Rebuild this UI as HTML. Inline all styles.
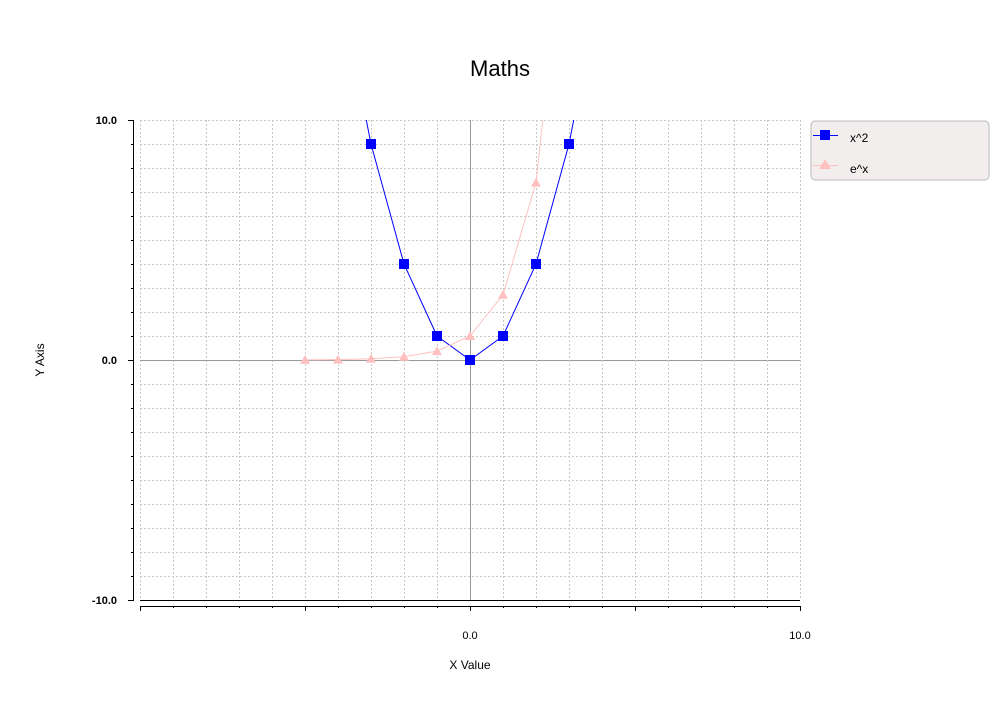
<!DOCTYPE html>
<html><head><meta charset="utf-8"><style>
body{margin:0;background:#fff;}
svg text{font-family:"Liberation Sans",sans-serif;}
</style></head><body>
<svg id="chart" width="1000" height="700" xmlns="http://www.w3.org/2000/svg">
<text x="500" y="76" text-anchor="middle" font-size="22">Maths</text>
<g id="grid" shape-rendering="crispEdges"></g>
<defs><clipPath id="pc"><rect x="140" y="120" width="660" height="480"/></clipPath></defs>
<g id="series" clip-path="url(#pc)"></g>
<g id="marks"></g>
<g shape-rendering="crispEdges">
<line x1="133.5" y1="120" x2="133.5" y2="600" stroke="#000"/>
<line x1="140" y1="600.5" x2="800" y2="600.5" stroke="#000"/>
<line x1="140" y1="606.5" x2="800" y2="606.5" stroke="#000"/>
</g>
<g id="axes" shape-rendering="crispEdges"></g>
<text transform="translate(44,360) rotate(-90)" text-anchor="middle" font-size="12">Y Axis</text>
<text x="470" y="669" text-anchor="middle" font-size="12">X Value</text>
<g>
<rect x="811" y="121" width="178" height="59" rx="4" fill="#f2eeee" stroke="#bbb"/>
<line x1="813" y1="135.5" x2="838" y2="135.5" stroke="#0000ff"/>
<rect x="820" y="130" width="10" height="10" fill="#0000ff"/>
<text x="850" y="142" font-size="12">x^2</text>
<line x1="813" y1="165.5" x2="838" y2="165.5" stroke="#ffc0c0"/>
<polygon points="825,159 831,169 819,169" fill="#ffc0c0"/>
<text x="850" y="173" font-size="12">e^x</text>
</g>
</svg>
<script>
const xs1=[-4,-3,-2,-1,0,1,2,3,4];
const ys1=[16,9,4,1,0,1,4,9,16];
const xs2=[-5,-4,-3,-2,-1,0,1,2,3];
const ys2=[0.0067,0.018,0.05,0.135,0.368,1,2.718,7.389,20.09];
const xTickLabels=[0,10];
const yTickLabels=[-10,0,10];
const NS="http://www.w3.org/2000/svg";
const X=v=>470+v*33, Y=v=>360-v*24;
function mk(t,a,p){const e=document.createElementNS(NS,t);for(const k in a)e.setAttribute(k,a[k]);p.appendChild(e);return e;}
const grid=document.getElementById('grid'),axes=document.getElementById('axes');
for(let i=-10;i<=10;i++){
 const g=mk('line',{x1:X(i)+0.5,x2:X(i)+0.5,y1:120,y2:600,stroke:i==0?'#999':'#c8c8c8','stroke-dasharray':i==0?'':'2,2'},grid);
 
 
 const h=mk('line',{x1:140,x2:800,y1:Y(i)+0.5,y2:Y(i)+0.5,stroke:i==0?'#999':'#c8c8c8','stroke-dasharray':i==0?'':'2,2'},grid);
 
 
 const t=mk('line',{x1:X(i)+0.5,x2:X(i)+0.5,y1:606,y2:i%5==0?611:608,stroke:'#000'},axes);
 
 
 const yt=mk('line',{x1:i%10==0?128:131,x2:134,y1:Y(i)+0.5,y2:Y(i)+0.5,stroke:'#000'},axes);
 
 
}
xTickLabels.forEach(v=>{const t=mk('text',{x:X(v),y:639,'text-anchor':'middle','font-size':11},axes);t.textContent=v.toFixed(1);
 
 });
yTickLabels.forEach(v=>{const t=mk('text',{x:117,y:Y(v)+4,'text-anchor':'end','font-size':11,'font-weight':'bold'},axes);t.textContent=v.toFixed(1);
 
 });
const s=document.getElementById('series'),m=document.getElementById('marks');
const l1=mk('polyline',{points:xs1.map((x,i)=>X(x)+','+Y(ys1[i])).join(' '),fill:'none',stroke:'#0000ff'},s);


const l2=mk('polyline',{points:xs2.map((x,i)=>X(x)+','+Y(ys2[i])).join(' '),fill:'none',stroke:'#ffc0c0'},s);


xs2.forEach((x,i)=>{const y=Y(ys2[i]);if(y<120||y>600)return;
 const p=mk('polygon',{points:`${X(x)},${y-5} ${X(x)+5},${y+4} ${X(x)-5},${y+4}`,fill:'#ffc0c0'},m);
 
 });
xs1.forEach((x,i)=>{const y=Y(ys1[i]);if(y<120||y>600)return;
 const r=mk('rect',{x:X(x)-5,y:y-5,width:10,height:10,fill:'#0000ff'},m);
 
 });
</script>
</body></html>
